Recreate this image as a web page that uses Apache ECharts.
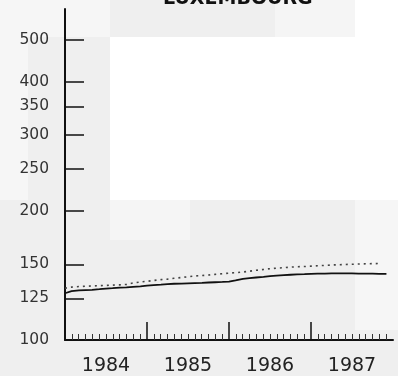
<!DOCTYPE html>
<html><head><meta charset="utf-8">
<script src="https://cdn.jsdelivr.net/npm/echarts@6/dist/echarts.min.js"></script>
<style>html,body{margin:0;padding:0;background:#fff}#c{width:398px;height:376px}</style>
</head><body><div id="c"></div>
<script>
// ---- data ----
var title = 'LUXEMBOURG';
var yearLabels = ['1984', '1985', '1986', '1987'];
var yTicks = [100, 125, 150, 200, 250, 300, 350, 400, 500];
var yearTicks = [1985, 1986, 1987];
// monthly observation points (decimal year)
var months = [
  1984.00,1984.08,1984.17,1984.25,1984.33,1984.42,1984.50,1984.58,1984.67,1984.75,1984.83,1984.92,
  1985.00,1985.08,1985.17,1985.25,1985.33,1985.42,1985.50,1985.58,1985.67,1985.75,1985.83,1985.92,
  1986.00,1986.08,1986.17,1986.25,1986.33,1986.42,1986.50,1986.58,1986.67,1986.75,1986.83,1986.92,
  1987.00,1987.08,1987.17,1987.25,1987.33,1987.42,1987.50,1987.58,1987.67,1987.75,1987.83,1987.92
];
var solidSeries = [
  128.5,130.0,130.5,130.7,130.9,131.3,131.7,132.0,132.4,132.6,133.0,133.3,
  133.8,134.2,134.6,135.0,135.2,135.3,135.5,135.7,135.9,136.1,136.3,136.5,
  136.8,137.6,138.8,139.3,139.8,140.3,140.8,141.2,141.6,141.9,142.2,142.4,
  142.6,142.7,142.8,142.9,143.0,142.9,142.9,142.8,142.8,142.7,142.6,142.5
];
var dottedSeries = [
  132.0,132.8,133.2,133.4,133.6,133.8,134.0,134.2,134.4,134.7,135.8,136.5,
  137.0,137.6,138.2,138.6,139.2,139.8,140.4,141.0,141.3,141.7,142.2,142.7,
  143.1,143.5,144.0,144.6,145.3,146.0,146.6,147.0,147.4,147.8,148.1,148.3,
  148.6,148.9,149.2,149.5,149.7,149.9,150.1,150.3,150.5,150.6,150.7
];

function pairs(xs, ys) { return ys.map(function (v, i) { return [xs[i], v]; }); }

var chart = echarts.init(document.getElementById('c'), null, {renderer: 'canvas'});
chart.setOption({
  animation: false,
  backgroundColor: '#efefef',
  graphic: [
    {type: 'rect', shape: {x: 110, y: 37, width: 288, height: 163}, style: {fill: '#ffffff'}, z: -10, silent: true},
    {type: 'rect', shape: {x: 355, y: 0, width: 43, height: 37}, style: {fill: '#ffffff'}, z: -10, silent: true},
    {type: 'rect', shape: {x: 0, y: 0, width: 110, height: 37}, style: {fill: '#f6f6f6'}, z: -10, silent: true},
    {type: 'rect', shape: {x: 275, y: 0, width: 80, height: 37}, style: {fill: '#f5f5f5'}, z: -10, silent: true},
    {type: 'rect', shape: {x: 0, y: 37, width: 28, height: 163}, style: {fill: '#f6f6f6'}, z: -10, silent: true},
    {type: 'rect', shape: {x: 110, y: 200, width: 80, height: 40}, style: {fill: '#f5f5f5'}, z: -10, silent: true},
    {type: 'rect', shape: {x: 355, y: 200, width: 43, height: 130}, style: {fill: '#f6f6f6'}, z: -10, silent: true}
  ],
  title: {
    text: title, left: 163, top: -10, padding: 0,
    textStyle: {fontFamily: 'DejaVu Sans', fontSize: 19, fontWeight: 'bold', color: '#111'}
  },
  grid: {left: 65, right: 5, top: 9, bottom: 36},
  xAxis: {
    type: 'value', min: 1984, max: 1988, interval: 1,
    axisLine: {show: true, lineStyle: {color: '#111', width: 2}},
    axisTick: {show: true, inside: true, length: 18, customValues: yearTicks, lineStyle: {color: '#111', width: 1.5}},
    minorTick: {show: true, splitNumber: 12, length: 6, lineStyle: {color: '#333', width: 1}},
    splitLine: {show: false},
    axisLabel: {
      customValues: [1984.5, 1985.5, 1986.5, 1987.5],
      formatter: function (v) { return yearLabels[Math.floor(v) - 1984]; },
      margin: 17, fontFamily: 'DejaVu Sans', fontSize: 19, color: '#222'
    }
  },
  yAxis: {
    type: 'log', logBase: 10, min: 100, max: 590,
    axisLine: {show: true, lineStyle: {color: '#111', width: 2}},
    axisTick: {show: true, inside: true, length: 19, customValues: yTicks, lineStyle: {color: '#111', width: 1.5}},
    splitLine: {show: false},
    minorTick: {show: false},
    axisLabel: {
      customValues: yTicks,
      formatter: function (v) { return String(Math.round(v)); },
      margin: 16, fontFamily: 'DejaVu Sans', fontSize: 15.5, color: '#333'
    }
  },
  series: [
    {type: 'line', data: pairs(months, dottedSeries), symbol: 'none', z: 3,
     lineStyle: {color: '#444', width: 1.6, type: [2, 4]}},
    {type: 'line', data: pairs(months, solidSeries), symbol: 'none', z: 4,
     lineStyle: {color: '#111', width: 1.8}}
  ]
});
</script></body></html>
